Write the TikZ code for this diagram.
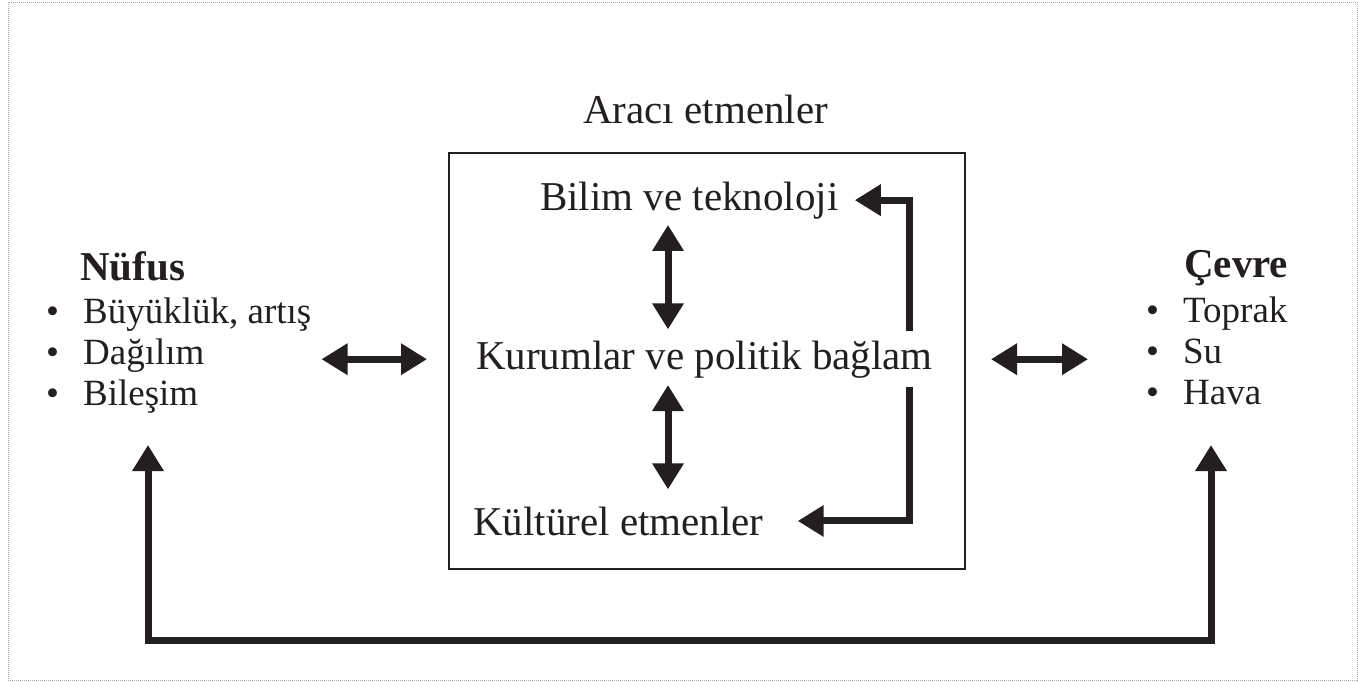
\documentclass[tikz,border=0pt]{standalone}
\usepackage{fontspec}
\setmainfont{Liberation Serif}
\usetikzlibrary{arrows.meta,positioning,calc}
\definecolor{ink}{HTML}{231F20}

\begin{document}
\begin{tikzpicture}[x=1pt, y=-1pt, ink,
    txt/.style={inner sep=0pt, anchor=base west, font=\fontsize{41}{49}\selectfont},
    head/.style={inner sep=0pt, anchor=base west, font=\fontsize{41}{49}\selectfont\bfseries},
    lst/.style={inner sep=0pt, anchor=base west, font=\fontsize{37}{41}\selectfont},
    tip/.style={Triangle[length=26pt, width=30pt]},
    twoway/.style={line width=7pt, {Triangle[length=26pt, width=30pt]}-{Triangle[length=26pt, width=30pt]}},
    oneway/.style={line width=7pt, -{Triangle[length=26pt, width=30pt]}}]
        \useasboundingbox (0,0) rectangle (1359,681);
        \draw[gray!70, densely dotted, line width=1pt] (8,2) rectangle (1357,680);

        % Nodes
        \node[txt] (araci) at (583,123) {Aracı etmenler};
        \node[draw, line width=2pt, minimum width=516pt, minimum height=416pt, inner sep=0pt] (box) at (707,361) {};
        \node[txt] (bilim) at (540,210) {Bilim ve teknoloji};
        \node[txt] (kurum) at (476,369) {Kurumlar ve politik bağlam};
        \node[txt] (kultur) at (473,535) {Kültürel etmenler};

        \node[head] (nufus) at (80,280) {Nüfus};
        \node[lst] (nlist) at (46,323) {\begin{tabular}[t]{@{}l@{\hspace{24pt}}l@{}}
            \textbullet & Büyüklük, artış\\
            \textbullet & Dağılım\\
            \textbullet & Bileşim
        \end{tabular}};
        \node[head] (cevre) at (1184,277) {Çevre};
        \node[lst] (clist) at (1146,322) {\begin{tabular}[t]{@{}l@{\hspace{24pt}}l@{}}
            \textbullet & Toprak\\
            \textbullet & Su\\
            \textbullet & Hava
        \end{tabular}};

        \coordinate (midx) at (668,0);
        \coordinate (loopx) at (909,0);
        \coordinate (nfoot) at (148,445);
        \coordinate (cfoot) at (1211,445);

        % Arrows
        \draw[twoway] ([xshift=10pt]nlist.east |- kurum) -- ([xshift=-21pt]box.west |- kurum);
        \draw[twoway] ([xshift=25pt]box.east |- kurum) -- ([xshift=-58pt]clist.west |- kurum);
        \draw[twoway] ([yshift=-6pt]bilim.south -| midx) -- ([yshift=11pt]kurum.north -| midx);
        \draw[twoway] ([yshift=-7pt]kurum.south -| midx) -- ([yshift=17pt]kultur.north -| midx);
        \draw[oneway] ([yshift=9pt]kurum.north -| loopx) |- ([xshift=16pt]bilim.east);
        \draw[oneway] ([yshift=-9pt]kurum.south -| loopx) |- ([xshift=34pt]kultur.east);
        \draw[twoway] (nfoot) -- ++(0,195) -| (cfoot);
\end{tikzpicture}
\end{document}
